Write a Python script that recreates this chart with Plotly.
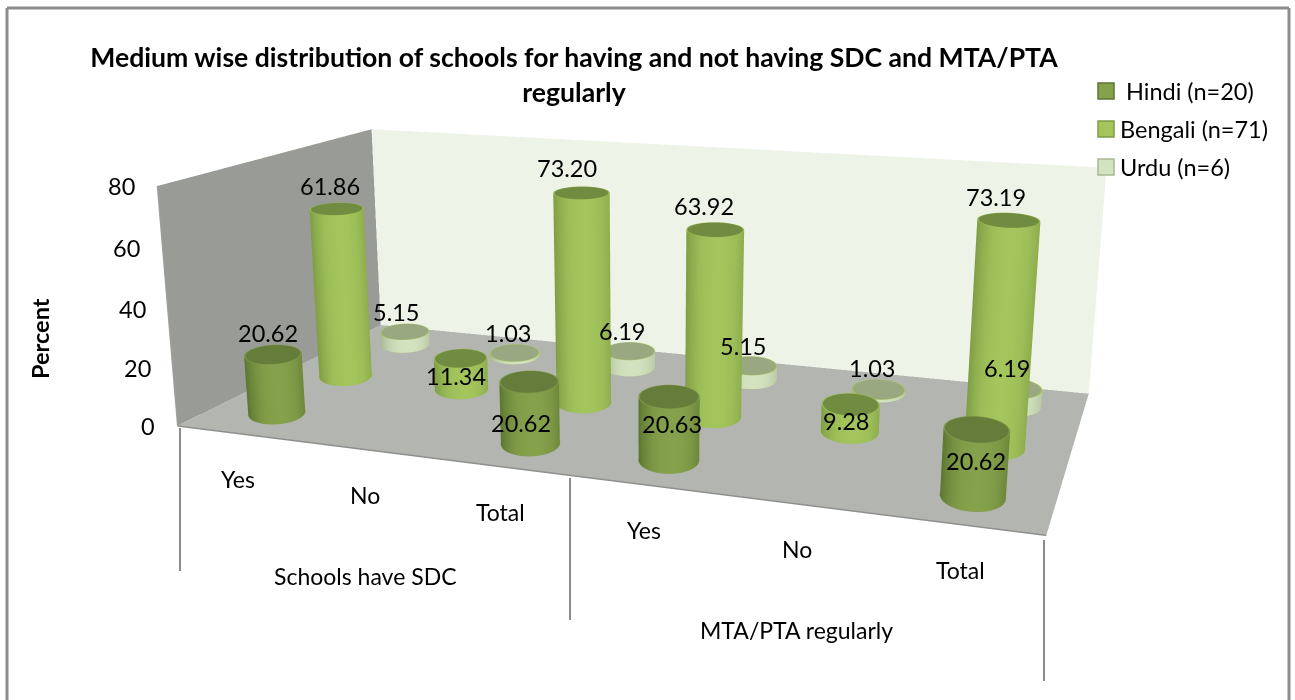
import numpy as np
import plotly.graph_objects as go

W, H = 1295, 700
categories = ["Yes", "No", "Total", "Yes", "No", "Total"]
groups = ["Schools have SDC", "MTA/PTA regularly"]
series_names = [" Hindi (n=20)", "Bengali (n=71)", "Urdu (n=6)"]
hindi = [20.62, None, 20.62, 20.63, None, 20.62]
bengali = [61.86, 11.34, 73.20, 63.92, 9.28, 73.19]
urdu = [5.15, 1.03, 6.19, 5.15, 1.03, 6.19]
z_ticks = [0, 20, 40, 60, 80]

# view of the 3D box
EYE = np.array([1.2365, -3.4728, 0.9066])
CENTER = np.array([0.0468, -0.1318, -0.0959])
UP = np.array([-0.0006, 0.003, 1.0])
ASPECT = np.array([2.0, 0.9825, 0.5706])
FOCAL_PX = 1592.2
fov = 2 * np.arctan((H / 2) / FOCAL_PX)

FLAT = dict(ambient=1, diffuse=0, specular=0, roughness=1, fresnel=0)
fig = go.Figure()


def quad(xs, ys, zs, col):
    fig.add_trace(go.Mesh3d(x=xs, y=ys, z=zs, i=[0, 0], j=[1, 2], k=[2, 3], color=col, flatshading=True,
                            lighting=FLAT, hoverinfo="skip", showscale=False))


# side wall, back wall and floor of the chart box
quad([0, 0, 0, 0], [0, 3, 3, 0], [0, 0, 80, 80], "#999b96")
quad([0, 6, 6, 0], [3, 3, 3, 3], [0, 0, 80, 80], "#eef3e8")
quad([0, 6, 6, 0], [0, 0, 3, 3], [0, 0, 0, 0], "#b3b5b0")


def hexrgb(h):
    return np.array([int(h[i:i + 2], 16) for i in (1, 3, 5)], float)


def css(c):
    return "rgb(%d,%d,%d)" % tuple(np.clip(np.round(c), 0, 255))


styles = [dict(center="#86a14b", edge="#5c7531", cap="#657c3a", rim="#7d9846"),
          dict(center="#a3c55c", edge="#7f9c44", cap="#718b40", rim="#9abb52"),
          dict(center="#d3e2bf", edge="#a9b893", cap="#9aa882", rim="#a3c55c")]
R_WORLD = 0.067      # half width of a column across the line of sight
R_DEPTH = 0.088      # half depth of a column along the line of sight
N = 64


def cylinder(xc, yc, h, st):
    """One column: shaded side wall, rimmed top cap and a thin rim at the foot."""
    th = np.linspace(0, 2 * np.pi, N, endpoint=False)
    wx = (xc / 6 - .5) * ASPECT[0]
    wy = (yc / 3 - .5) * ASPECT[1]
    v = np.array([EYE[0] - wx, EYE[1] - wy])
    v /= np.linalg.norm(v)
    e = np.array([-v[1], v[0]])
    # e points to the viewer's right when v points at the viewer
    if e[0] < 0:
        e = -e

    def ring(k):
        gx = wx + k * (R_WORLD * np.cos(th) * e[0] + R_DEPTH * np.sin(th) * v[0])
        gy = wy + k * (R_WORLD * np.cos(th) * e[1] + R_DEPTH * np.sin(th) * v[1])
        return (gx / ASPECT[0] + .5) * 6, (gy / ASPECT[1] + .5) * 3

    X, Y = ring(1.0)
    Xi, Yi = ring(0.955)
    lateral = np.cos(th)
    s = 1 - np.clip(np.abs(lateral - 0.1) / 1.1, 0, 1) ** 2.5
    cs = hexrgb(st["edge"])[None] * (1 - s[:, None]) + hexrgb(st["center"])[None] * s[:, None]
    xs = list(X) + list(X)
    ys = list(Y) + list(Y)
    zs = [0] * N + [h] * N
    cols = [css(c) for c in cs] * 2
    I, J, K = [], [], []
    for n in range(N):
        m = (n + 1) % N
        I += [n, n + N]
        J += [m, m]
        K += [n + N, m + N]
    b = len(xs)
    xs += list(X) + list(Xi) + list(Xi) + [xc]
    ys += list(Y) + list(Yi) + list(Yi) + [yc]
    zs += [h] * (3 * N + 1)
    cols += [st["rim"]] * (2 * N) + [st["cap"]] * (N + 1)
    for n in range(N):
        m = (n + 1) % N
        I += [b + n, b + n + N, b + 2 * N + n]
        J += [b + m, b + m, b + 2 * N + m]
        K += [b + n + N, b + m + N, b + 3 * N]
    fig.add_trace(go.Mesh3d(x=xs, y=ys, z=zs, i=I, j=J, k=K, vertexcolor=cols, lighting=FLAT,
                            flatshading=False, hoverinfo="skip", showscale=False))
    fig.add_trace(go.Scatter3d(x=list(X) + [X[0]], y=list(Y) + [Y[0]], z=[0] * (N + 1), mode="lines",
                               line=dict(color=st["rim"], width=2), hoverinfo="skip"))


all_series = [hindi, bengali, urdu]
for row, vals in enumerate(all_series):
    for col, val in enumerate(vals):
        if val is not None:
            cylinder(col + .5, row + .5, val, styles[row])


def line3d(xs, ys, zs, w=3, c="#8e8e8e"):
    fig.add_trace(go.Scatter3d(x=xs, y=ys, z=zs, mode="lines", line=dict(color=c, width=w), hoverinfo="skip"))


line3d([0, 6], [0, 0], [0, 0])
line3d([6, 6], [0, 3], [0, 0])
line3d([0, 0], [0, 0], [0, 80], w=2, c="#a0a0a0")
for zv in z_ticks:
    line3d([-0.07, 0], [0, 0], [zv, zv], w=2)

FONT = "Lato"
TXT = "#000000"
scene_ann = []


def sa(x, y, z, text, size=23.5, xs=0, ys=0, xanchor="center"):
    scene_ann.append(dict(x=x, y=y, z=z, text=text, showarrow=False, xshift=xs, yshift=ys, xanchor=xanchor,
                          yanchor="middle", font=dict(family=FONT, size=size, color=TXT)))


for zv in z_ticks:
    sa(0, 0, zv, str(zv), xs=-20, xanchor="right")
for i, c in enumerate(categories):
    sa(i + .5, 0, 0, c, size=23, ys=-45)
for i, g in enumerate(groups):
    sa(1.5 + 3 * i, 0, 0, g, size=23, ys=-126)

# data label offsets from the top of each column, in pixels
label_shift = [[(-5, 21), None, (-8, -41), (3, -27), None, (-1, -32)],
               [(-7, 23), (-5, -18), (-14, 25), (-11, 24), (-5, -17), (-13, 23)],
               [(-9, 20), (-7, 20), (-8, 20), (-8, 20), (-6, 21), (-7, 20)]]
for row, vals in enumerate(all_series):
    for col, val in enumerate(vals):
        if val is not None:
            dx, dy = label_shift[row][col]
            sa(col + .5, row + .5, val, "%.2f" % val, xs=dx, ys=dy)


def px(x):
    return x / W


def py(y):
    return 1 - y / H


annots = [dict(text="<b>Percent</b>", xref="paper", yref="paper", x=px(40), y=py(339), textangle=-90,
               xanchor="center", yanchor="middle", showarrow=False, font=dict(family=FONT, size=23.5, color=TXT))]
legend_y = [91, 129, 167]
legend_tx = [1118, 1118, 1118]
shapes = []
for i, nm in enumerate(series_names):
    annots.append(dict(text=nm, xref="paper", yref="paper", x=px(legend_tx[i]), y=py(legend_y[i]), xanchor="left",
                       yanchor="middle", showarrow=False, font=dict(family=FONT, size=23.5, color=TXT)))
    shapes.append(dict(type="rect", xref="paper", yref="paper", x0=px(1098), x1=px(1114), y0=py(legend_y[i] - 8),
                       y1=py(legend_y[i] + 8), fillcolor=styles[i]["center"],
                       line=dict(color=styles[i]["edge"], width=1.5)))
GREY = "#8c8c8c"
for x0, y0, x1, y1, wd in [(7, 700, 7, 8, 3), (7, 8, 1289, 8, 3), (1289, 8, 1289, 700, 3),
                           (180, 428, 180, 571, 2), (570, 478, 570, 620, 2), (1044, 540, 1044, 681, 2)]:
    shapes.append(dict(type="line", xref="paper", yref="paper", x0=px(x0), y0=py(y0), x1=px(x1), y1=py(y1),
                       line=dict(color=GREY, width=wd)))

fig.update_layout(
    width=W, height=H, margin=dict(l=0, r=0, t=0, b=0), paper_bgcolor="white", showlegend=False,
    title=dict(text="<b>Medium wise distribution of schools for having and not having SDC and MTA/PTA<br>regularly</b>",
               x=px(574), y=py(67), xref="paper", yref="paper", xanchor="center", yanchor="middle",
               font=dict(family=FONT, size=26.6, color=TXT)),
    scene=dict(domain=dict(x=[0, 1], y=[0, 1]), aspectmode="manual",
               aspectratio=dict(x=ASPECT[0], y=ASPECT[1], z=ASPECT[2]),
               camera=dict(eye=dict(x=EYE[0], y=EYE[1], z=EYE[2]),
                           center=dict(x=CENTER[0], y=CENTER[1], z=CENTER[2]),
                           up=dict(x=UP[0], y=UP[1], z=UP[2])),
               xaxis=dict(visible=False, range=[0, 6]), yaxis=dict(visible=False, range=[0, 3]),
               zaxis=dict(visible=False, range=[0, 80]), annotations=scene_ann),
    annotations=annots, shapes=shapes)
# narrow the lens of the 3D view once the scene exists
post = ("var s=document.getElementById('{plot_id}')._fullLayout.scene._scene;"
        "s.glplot.fovy=%.6f;s.glplot.redraw();" % fov)
fig.write_html("out.html", post_script=post)
